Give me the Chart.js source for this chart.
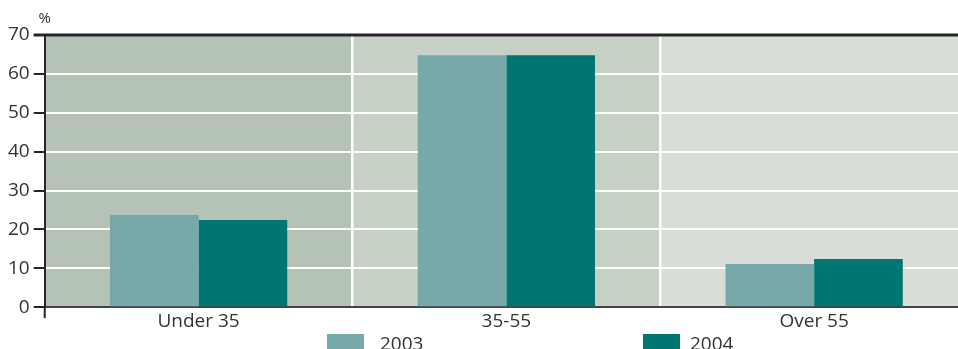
<!DOCTYPE html>
<html lang="en">
<head>
  <meta charset="UTF-8">
  <title>Age groups 2003-2004</title>
  <script src="https://cdn.jsdelivr.net/npm/chart.js"></script>
  <style>
    html, body {
      margin: 0;
      padding: 0;
      background: #fff;
      overflow: hidden;
    }
  </style>
</head>
<body>
  <canvas id="ageChart" width="968" height="349"></canvas>

  <script>
    // data
    const categories = ['Under 35', '35-55', 'Over 55'];
    const values2003 = [23.7, 64.8, 11.1];
    const values2004 = [22.4, 64.8, 12.4];
    const yTicks = [0, 10, 20, 30, 40, 50, 60, 70];

    const bandColors = ['#b4c3b5', '#c6d0c5', '#d8ddd7'];
    const textColor = '#333';
    const axisColor = '#262626';
    const fontFamily = '"Open Sans", "DejaVu Sans", sans-serif';

    // shaded column behind each category
    const bandsPlugin = {
      id: 'bands',
      beforeDraw(chart) {
        const { ctx, chartArea, scales } = chart;
        const x = scales.x;
        const step = (chartArea.right - chartArea.left) / categories.length;
        ctx.save();
        categories.forEach((c, i) => {
          ctx.fillStyle = bandColors[i];
          ctx.fillRect(x.left + i * step, chartArea.top, step, chartArea.bottom - chartArea.top);
        });
        ctx.restore();
      }
    };

    // top frame line, "%" unit, the axis stub and the legend
    const extrasPlugin = {
      id: 'extras',
      afterDraw(chart) {
        const { ctx, chartArea } = chart;
        ctx.save();
        ctx.strokeStyle = axisColor;
        ctx.lineWidth = 3;
        ctx.beginPath();
        ctx.moveTo(chartArea.left - 11, chartArea.top);
        ctx.lineTo(chart.width, chartArea.top);
        ctx.stroke();

        ctx.lineWidth = 2;
        ctx.beginPath();
        ctx.moveTo(chartArea.left, chartArea.bottom);
        ctx.lineTo(chartArea.left, chartArea.bottom + 11);
        ctx.stroke();

        ctx.fillStyle = textColor;
        ctx.font = '15px ' + fontFamily;
        ctx.textAlign = 'center';
        ctx.textBaseline = 'alphabetic';
        ctx.fillText('%', chartArea.left, 23);

        // legend
        const legendPos = [{ box: 327, text: 380 }, { box: 643, text: 690 }];
        ctx.font = '19px ' + fontFamily;
        ctx.textAlign = 'left';
        chart.data.datasets.forEach((ds, i) => {
          ctx.fillStyle = ds.backgroundColor;
          ctx.fillRect(legendPos[i].box, 334, 37, 18);
          ctx.fillStyle = textColor;
          ctx.fillText(ds.label, legendPos[i].text, 350);
        });
        ctx.restore();
      }
    };

    const ctx = document.getElementById('ageChart').getContext('2d');
    new Chart(ctx, {
      type: 'bar',
      data: {
        labels: categories,
        datasets: [
          { label: '2003', data: values2003, backgroundColor: '#77a9aa', borderWidth: 0 },
          { label: '2004', data: values2004, backgroundColor: '#007672', borderWidth: 0 }
        ]
      },
      options: {
        responsive: false,
        animation: false,
        layout: { padding: { top: 35, left: 4, right: 0, bottom: 13 } },
        datasets: {
          bar: { categoryPercentage: 0.576, barPercentage: 1.0 }
        },
        plugins: {
          legend: { display: false },
          tooltip: { enabled: false }
        },
        scales: {
          x: {
            grid: {
              drawTicks: false,
              tickLength: 0,
              lineWidth: 2.5,
              color: c => (c.index === 1 || c.index === 2) ? '#ffffff' : 'rgba(0,0,0,0)'
            },
            border: { display: true, color: '#444', width: 2 },
            ticks: {
              padding: 3,
              color: textColor,
              font: { family: fontFamily, size: 19 }
            }
          },
          y: {
            min: 0,
            max: 70,
            afterBuildTicks: axis => { axis.ticks = yTicks.map(v => ({ value: v })); },
            grid: {
              lineWidth: 2,
              tickLength: 11,
              tickWidth: 2,
              tickColor: axisColor,
              color: c => (c.tick && (c.tick.value === 0 || c.tick.value === 70)) ? 'rgba(0,0,0,0)' : '#ffffff'
            },
            border: { display: true, color: axisColor, width: 2 },
            ticks: {
              padding: 4,
              color: textColor,
              font: { family: fontFamily, size: 19 }
            }
          }
        }
      },
      plugins: [bandsPlugin, extrasPlugin]
    });
  </script>
</body>
</html>
